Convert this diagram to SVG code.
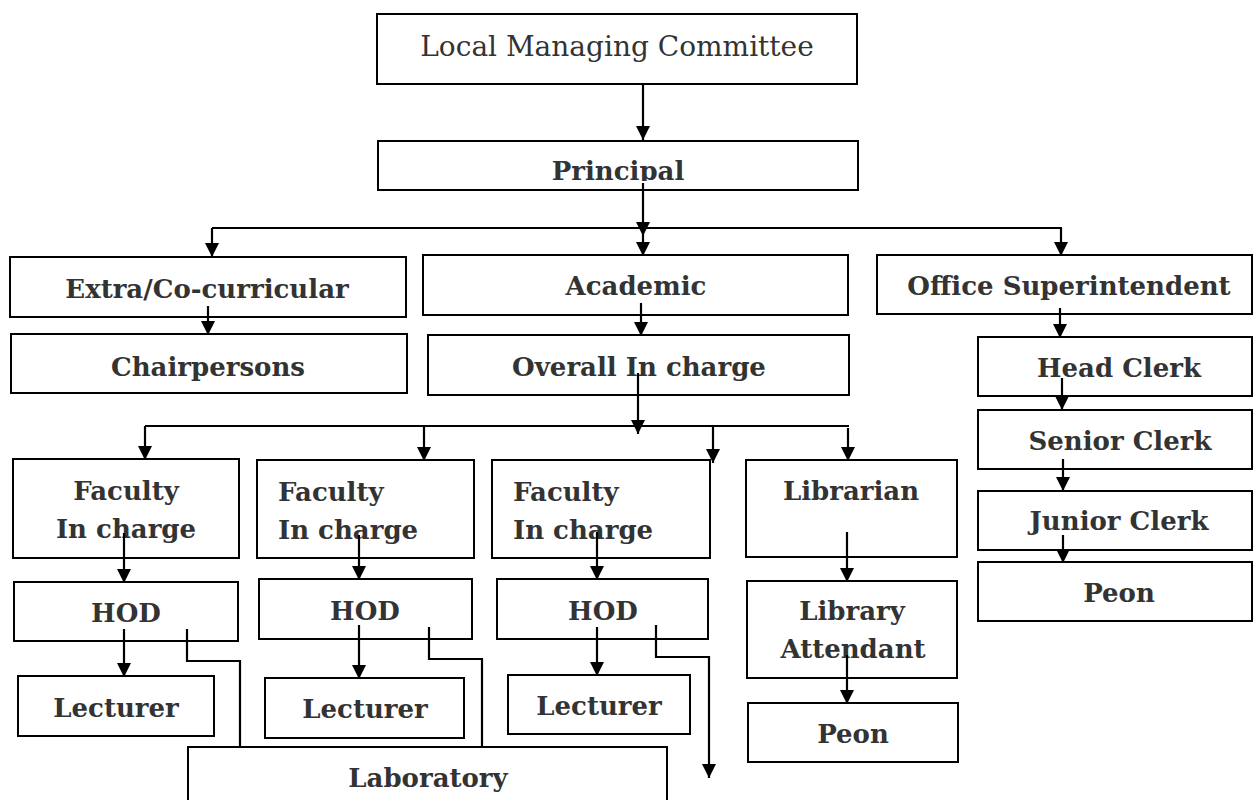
<svg xmlns="http://www.w3.org/2000/svg" width="1253" height="800" viewBox="0 0 1253 800">
<style>
.box{fill:#fff;stroke:#000;stroke-width:2}
.t{font-family:"DejaVu Serif","Liberation Serif",serif;font-weight:bold;font-size:26px;fill:#333}
.tr{font-family:"DejaVu Serif","Liberation Serif",serif;font-size:28px;fill:#333}
.c{text-anchor:middle}
.ln{fill:none;stroke:#000;stroke-width:2.2}
.ar{fill:none;stroke:#000;stroke-width:2.2;marker-end:url(#ah)}
</style>
<defs>
<marker id="ah" markerUnits="userSpaceOnUse" markerWidth="15" markerHeight="14" refX="14" refY="7" orient="auto">
<path d="M0,0 L14,7 L0,14 Z" fill="#000"/>
</marker>
<clipPath id="pclip"><rect x="378" y="141" width="480" height="40"/></clipPath>
</defs>
<rect width="1253" height="800" fill="#fff"/>

<g id="lmc"><rect class="box" x="377" y="14" width="480" height="70"/><text class="tr c" x="617" y="56">Local Managing Committee</text></g>
<g id="principal"><rect class="box" x="378" y="141" width="480" height="49"/><text class="t c" x="618" y="180" clip-path="url(#pclip)">Principal</text></g>
<g id="extra"><rect class="box" x="10" y="257" width="396" height="60"/><text class="t c" x="207" y="298">Extra/Co-curricular</text></g>
<g id="chair"><rect class="box" x="11" y="334" width="396" height="59"/><text class="t c" x="208" y="376">Chairpersons</text></g>
<g id="academic"><rect class="box" x="423" y="255" width="425" height="60"/><text class="t c" x="636" y="295">Academic</text></g>
<g id="overall"><rect class="box" x="428" y="335" width="421" height="60"/><text class="t c" x="639" y="376">Overall In charge</text></g>
<g id="office"><rect class="box" x="877" y="255" width="375" height="59"/><text class="t c" x="1069" y="295">Office Superintendent</text></g>
<g id="headclerk"><rect class="box" x="978" y="337" width="274" height="59"/><text class="t c" x="1119" y="377">Head Clerk</text></g>
<g id="seniorclerk"><rect class="box" x="978" y="410" width="274" height="59"/><text class="t c" x="1120" y="450">Senior Clerk</text></g>
<g id="juniorclerk"><rect class="box" x="978" y="491" width="274" height="59"/><text class="t c" x="1119" y="530">Junior Clerk</text></g>
<g id="peon1"><rect class="box" x="978" y="562" width="274" height="59"/><text class="t c" x="1119" y="602">Peon</text></g>

<g id="fac1"><rect class="box" x="13" y="459" width="226" height="99"/><text class="t c" x="126" y="500">Faculty</text><text class="t c" x="126" y="538">In charge</text></g>
<g id="hod1"><rect class="box" x="14" y="582" width="224" height="59"/><text class="t c" x="126" y="622">HOD</text></g>
<g id="lec1"><rect class="box" x="18" y="676" width="196" height="60"/><text class="t c" x="116" y="717">Lecturer</text></g>

<g id="fac2"><rect class="box" x="257" y="460" width="217" height="98"/><text class="t" x="278" y="501">Faculty</text><text class="t" x="278" y="539">In charge</text></g>
<g id="hod2"><rect class="box" x="259" y="579" width="213" height="60"/><text class="t c" x="365" y="620">HOD</text></g>
<g id="lec2"><rect class="box" x="265" y="678" width="199" height="60"/><text class="t c" x="365" y="718">Lecturer</text></g>

<g id="fac3"><rect class="box" x="492" y="460" width="218" height="98"/><text class="t" x="513" y="501">Faculty</text><text class="t" x="513" y="539">In charge</text></g>
<g id="hod3"><rect class="box" x="497" y="579" width="211" height="60"/><text class="t c" x="603" y="620">HOD</text></g>
<g id="lec3"><rect class="box" x="508" y="675" width="182" height="59"/><text class="t c" x="599" y="715">Lecturer</text></g>

<g id="librarian"><rect class="box" x="746" y="460" width="211" height="97"/><text class="t c" x="851" y="500">Librarian</text></g>
<g id="libatt"><rect class="box" x="747" y="581" width="210" height="97"/><text class="t c" x="852" y="620">Library</text><text class="t c" x="853" y="658">Attendant</text></g>
<g id="peon2"><rect class="box" x="748" y="703" width="210" height="59"/><text class="t c" x="853" y="743">Peon</text></g>

<g id="lab"><rect class="box" x="188" y="747" width="479" height="60"/><text class="t c" x="428" y="787">Laboratory</text></g>

<g id="connectors">
<path class="ar" d="M643,84 V140"/>
<path class="ar" d="M643,183 V236"/>
<path class="ar" d="M643,236 V256"/>
<path class="ln" d="M212,228 H1062"/>
<path class="ar" d="M212,228 V257"/>
<path class="ar" d="M1061,228 V256"/>
<path class="ar" d="M208,306 V335"/>
<path class="ar" d="M641,303 V336"/>
<path class="ar" d="M1060,308 V338"/>
<path class="ar" d="M1062,378 V410"/>
<path class="ar" d="M1063,459 V491"/>
<path class="ar" d="M1063,535 V563"/>
<path class="ar" d="M638,373 V434"/>
<path class="ln" d="M145,426 H849"/>
<path class="ar" d="M145,426 V460"/>
<path class="ar" d="M424,426 V461"/>
<path class="ar" d="M713,426 V463"/>
<path class="ar" d="M848,428 V461"/>
<path class="ar" d="M124,533 V583"/>
<path class="ar" d="M359,535 V580"/>
<path class="ar" d="M597,532 V580"/>
<path class="ar" d="M847,532 V582"/>
<path class="ar" d="M124,629 V677"/>
<path class="ar" d="M359,625 V679"/>
<path class="ar" d="M597,627 V676"/>
<path class="ar" d="M847,655 V704"/>
<path class="ln" d="M187,629 V661 H240 V747"/>
<path class="ln" d="M429,627 V659 H482 V747"/>
<path class="ar" d="M656,625 V657 H709 V778"/>
</g>
</svg>
